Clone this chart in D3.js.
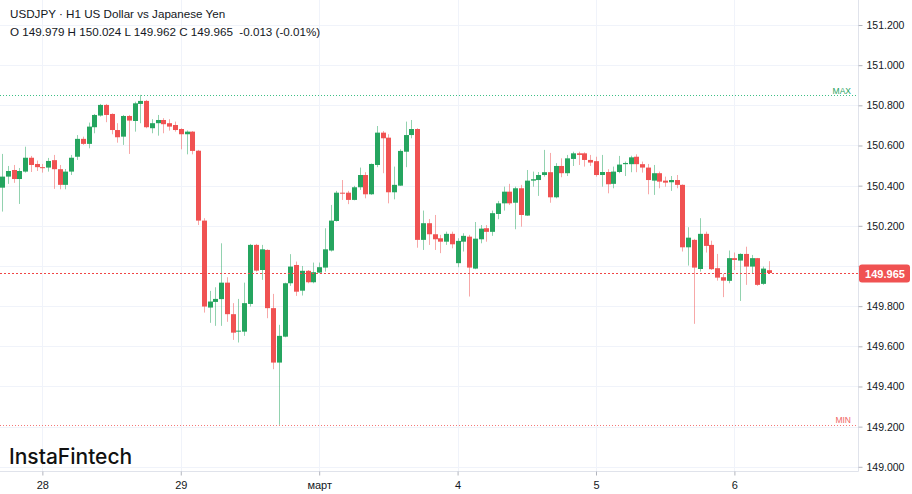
<!DOCTYPE html>
<html><head><meta charset="utf-8">
<script src="https://cdn.jsdelivr.net/npm/d3@7"></script>
<style>
body{margin:0;background:#fff;}
svg{display:block;}
text{font-family:"Liberation Sans",Arial,sans-serif;}
</style>
</head><body><svg id="c" width="912" height="494"></svg>
<script>
const opens=[150.390,150.445,150.478,150.433,150.470,150.539,150.508,150.492,150.490,150.527,
150.482,150.404,150.470,150.544,150.633,150.608,150.691,150.749,150.802,150.757,
150.677,150.644,150.747,150.722,150.807,150.822,150.686,150.711,150.727,150.711,
150.702,150.682,150.656,150.669,150.574,150.226,149.793,149.821,149.835,149.917,
149.760,149.673,149.673,149.811,150.105,149.980,150.080,149.790,149.519,149.648,
149.914,150.005,149.877,149.976,149.919,149.967,149.992,150.077,150.224,150.365,
150.365,150.329,150.392,150.453,150.357,150.503,150.664,150.639,150.367,150.400,
150.569,150.652,150.682,150.130,150.213,150.158,150.138,150.121,150.160,150.014,
150.121,150.146,149.987,150.133,150.188,150.170,150.259,150.312,150.370,150.315,
150.387,150.251,150.425,150.428,150.453,150.467,150.342,150.498,150.462,150.533,
150.561,150.561,150.528,150.522,150.453,150.468,150.409,150.468,150.507,150.507,
150.544,150.507,150.490,150.425,150.462,150.425,150.417,150.428,150.404,150.093,
150.130,149.985,150.160,150.105,149.989,149.944,149.926,150.039,150.027,150.060,
149.997,150.039,149.911,149.979];
const highs=[150.558,150.498,150.503,150.488,150.594,150.548,150.525,150.508,150.538,150.553,
150.503,150.483,150.553,150.652,150.644,150.714,150.757,150.807,150.807,150.760,
150.711,150.752,150.752,150.818,150.852,150.827,150.731,150.752,150.736,150.731,
150.719,150.686,150.675,150.672,150.578,150.238,149.876,149.894,150.113,149.944,
149.815,149.836,149.917,150.110,150.110,150.105,150.083,149.861,149.707,149.917,
150.059,150.022,150.000,149.980,150.017,150.017,150.188,150.304,150.374,150.428,
150.374,150.399,150.490,150.467,150.510,150.697,150.672,150.656,150.495,150.581,
150.719,150.727,150.686,150.276,150.234,150.254,150.155,150.171,150.171,150.138,
150.163,150.155,150.219,150.204,150.204,150.276,150.324,150.395,150.409,150.395,
150.404,150.478,150.470,150.468,150.578,150.563,150.512,150.536,150.553,150.569,
150.569,150.566,150.553,150.544,150.553,150.482,150.495,150.548,150.520,150.549,
150.556,150.520,150.508,150.503,150.470,150.445,150.448,150.453,150.406,150.193,
150.135,150.238,150.171,150.126,150.060,149.961,150.077,150.067,150.063,150.096,
150.055,150.040,149.997,150.024];
const lows=[150.271,150.409,150.414,150.309,150.465,150.468,150.473,150.465,150.470,150.384,
150.382,150.382,150.453,150.528,150.603,150.586,150.661,150.744,150.716,150.656,
150.614,150.603,150.558,150.669,150.711,150.686,150.661,150.649,150.661,150.674,
150.669,150.581,150.556,150.556,150.204,149.768,149.717,149.702,149.702,149.722,
149.632,149.619,149.652,149.798,149.972,149.931,149.740,149.486,149.209,149.645,
149.901,149.851,149.853,149.914,149.914,149.964,149.972,150.072,150.221,150.329,
150.308,150.327,150.379,150.337,150.354,150.492,150.462,150.312,150.332,150.399,
150.492,150.636,150.091,150.080,150.105,150.080,150.064,150.105,150.088,149.994,
150.072,149.848,149.984,150.113,150.121,150.150,150.233,150.276,150.304,150.183,
150.196,150.249,150.395,150.349,150.445,150.315,150.337,150.442,150.448,150.498,
150.503,150.495,150.498,150.445,150.395,150.362,150.387,150.462,150.448,150.467,
150.467,150.465,150.357,150.354,150.387,150.395,150.374,150.387,150.072,150.002,
149.712,149.972,150.067,149.980,149.927,149.845,149.914,149.980,149.826,149.906,
149.964,149.901,149.906,149.962];
const closes=[150.445,150.473,150.433,150.473,150.539,150.503,150.492,150.487,150.523,150.482,
150.404,150.470,150.539,150.633,150.608,150.694,150.752,150.802,150.752,150.677,
150.641,150.747,150.724,150.810,150.822,150.691,150.711,150.727,150.706,150.694,
150.677,150.656,150.669,150.573,150.226,149.798,149.823,149.836,149.917,149.760,
149.668,149.678,149.815,150.105,149.977,150.083,149.790,149.519,149.652,149.914,
149.997,149.872,149.976,149.919,149.969,149.994,150.083,150.226,150.365,150.360,
150.329,150.392,150.453,150.357,150.508,150.664,150.636,150.367,150.404,150.573,
150.652,150.682,150.130,150.213,150.158,150.133,150.121,150.160,150.108,150.125,
150.150,149.992,150.136,150.186,150.170,150.263,150.312,150.370,150.312,150.387,
150.254,150.425,150.432,150.453,150.467,150.342,150.498,150.462,150.536,150.561,
150.553,150.528,150.515,150.453,150.468,150.407,150.470,150.505,150.513,150.541,
150.507,150.490,150.428,150.462,150.420,150.415,150.428,150.404,150.093,150.141,
149.992,150.160,150.100,149.984,149.942,149.927,150.039,150.030,150.060,149.997,
150.039,149.906,149.987,149.965];
const dayIndex=[7,31,55,79,103,127];
const dayLabels=["28","29","март","4","5","6"];
const priceTicks=[149.0,149.2,149.4,149.6,149.8,150.0,150.2,150.4,150.6,150.8,151.0,151.2];
const titleText="USDJPY · H1 US Dollar vs Japanese Yen";
const ohlcText="O 149.979 H 150.024 L 149.962 C 149.965  -0.013 (-0.01%)";
const logoText="InstaFintech";

const upCol="#25a55f", downCol="#f05252";
const upWick="rgba(37,165,95,0.5)", downWick="rgba(240,82,82,0.5)";
const axisX=858.5, axisY=471.5;

const svg=d3.select("#c");
const x=d3.scaleLinear().domain([0,opens.length-1]).range([2,769]);
const y=d3.scaleLinear().domain([149.0,151.2]).range([466.8,25]);
const last=closes[closes.length-1];
const ly=Math.round(y(last))+0.5;

// dotted patterns
const defs=svg.append("defs");
function dotPattern(id,col,period,on){
  const p=defs.append("pattern").attr("id",id).attr("patternUnits","userSpaceOnUse")
    .attr("width",period).attr("height",1);
  p.append("rect").attr("x",0).attr("y",0).attr("width",on).attr("height",1).attr("fill",col);
}
dotPattern("dotMax","#3cbf85",3,1);
dotPattern("dotMin","#f47878",3,1);
dotPattern("dotLast","#f04545",4,2);
function dottedLine(yPix,x2,pat){
  const yy=Math.round(yPix);
  svg.append("rect").attr("x",0).attr("y",yy).attr("width",x2).attr("height",1)
    .attr("fill",`url(#${pat})`).attr("shape-rendering","crispEdges");
}

// grid
const grid=svg.append("g").attr("shape-rendering","crispEdges");
grid.selectAll("line.h").data(priceTicks).join("line")
  .attr("x1",0).attr("x2",axisX).attr("y1",d=>Math.round(y(d))+0.5).attr("y2",d=>Math.round(y(d))+0.5)
  .attr("stroke","#f0f3fa");
grid.selectAll("line.v").data(dayIndex).join("line")
  .attr("x1",d=>Math.round(x(d))+0.5).attr("x2",d=>Math.round(x(d))+0.5).attr("y1",0).attr("y2",axisY)
  .attr("stroke","#f0f3fa");

// candles
const data=opens.map((o,i)=>({i,o,h:highs[i],l:lows[i],c:closes[i]}));
const cg=svg.append("g");
cg.selectAll("rect.w").data(data).join("rect")
  .attr("x",d=>Math.round(x(d.i))).attr("width",1)
  .attr("y",d=>y(d.h)).attr("height",d=>y(d.l)-y(d.h))
  .attr("fill",d=>d.c>=d.o?upWick:downWick);
cg.selectAll("rect.b").data(data).join("rect")
  .attr("x",d=>Math.round(x(d.i))-2).attr("width",5)
  .attr("y",d=>y(Math.max(d.o,d.c)))
  .attr("height",d=>Math.max(1,y(Math.min(d.o,d.c))-y(Math.max(d.o,d.c))))
  .attr("fill",d=>d.c>=d.o?upCol:downCol);

// max/min lines
const maxV=d3.max(highs), minV=d3.min(lows);
dottedLine(y(maxV),axisX-2,"dotMax");
svg.append("text").attr("x",851).attr("y",Math.round(y(maxV))-1).attr("text-anchor","end")
  .attr("font-size",8.5).attr("fill","#1fa35f").text("MAX");
dottedLine(y(minV),axisX-2,"dotMin");
svg.append("text").attr("x",851).attr("y",Math.round(y(minV))-2).attr("text-anchor","end")
  .attr("font-size",8.5).attr("fill","#f06464").text("MIN");

// axes lines
svg.append("line").attr("x1",axisX).attr("x2",axisX).attr("y1",0).attr("y2",axisY).attr("stroke","#e0e3eb");
svg.append("line").attr("x1",0).attr("x2",axisX).attr("y1",axisY).attr("y2",axisY).attr("stroke","#e0e3eb");

// y axis (label hidden where the last-price badge sits, as in the reference)
const ya=svg.append("g").attr("transform",`translate(${axisX},0)`)
  .call(d3.axisRight(y).tickValues(priceTicks).tickSize(4).tickPadding(4).tickFormat(d3.format(".3f")));
ya.select(".domain").remove();
ya.selectAll(".tick line").attr("stroke","#b2b5be");
ya.selectAll(".tick text").attr("font-size",10.5).attr("fill","#131722").style("font-family","'Liberation Sans',Arial,sans-serif");
ya.selectAll(".tick").filter(d=>Math.abs(y(d)-ly)<14).select("text").remove();

// x axis
const xa=svg.append("g").attr("transform",`translate(0,${axisY})`)
  .call(d3.axisBottom(x).tickValues(dayIndex).tickSize(4).tickPadding(6).tickFormat((d,i)=>dayLabels[i]));
xa.select(".domain").remove();
xa.selectAll(".tick line").attr("stroke","#b2b5be");
xa.selectAll(".tick text").attr("font-size",11).attr("fill","#131722").style("font-family","'Liberation Sans',Arial,sans-serif");

// current price line & label
dottedLine(ly-0.5,axisX,"dotLast");
svg.append("rect").attr("x",859).attr("y",ly-9).attr("width",51).attr("height",18).attr("rx",3).attr("fill","#f05252");
svg.append("text").attr("x",885).attr("y",ly+4).attr("text-anchor","middle").attr("font-size",11).attr("font-weight","bold")
  .attr("fill","#fff").text(d3.format(".3f")(last));

// title
svg.append("text").attr("x",10).attr("y",18).attr("font-size",11.65).attr("fill","#131722").text(titleText);
svg.append("text").attr("x",10).attr("y",35.5).attr("font-size",11.65).attr("fill","#131722").style("white-space","pre").text(ohlcText);

// logo
svg.append("text").attr("x",9).attr("y",464).attr("font-size",21).attr("font-weight",500)
  .style("font-family","Inter, 'Noto Sans', sans-serif").attr("fill","#111").text(logoText);
</script>
</body></html>
